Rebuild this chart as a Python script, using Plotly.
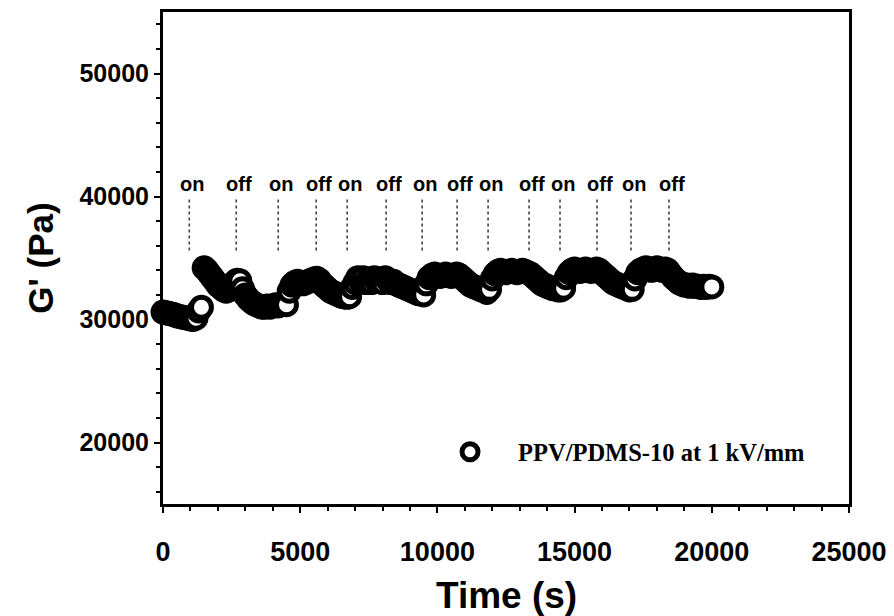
import plotly.graph_objects as go

# ---- data ----
time_s = [
    0, 100, 200, 300, 400, 500, 600, 700, 800, 900,
    1000, 1100, 1200, 1300, 1400, 1500, 1600, 1700, 1800, 1900,
    2000, 2100, 2200, 2300, 2400, 2500, 2600, 2700, 2800, 2900,
    3000, 3100, 3200, 3300, 3400, 3500, 3600, 3700, 3800, 3900,
    4000, 4100, 4200, 4300, 4400, 4500, 4600, 4700, 4800, 4900,
    5000, 5100, 5200, 5300, 5400, 5500, 5600, 5700, 5800, 5900,
    6000, 6100, 6200, 6300, 6400, 6500, 6600, 6700, 6800, 6900,
    7000, 7100, 7200, 7300, 7400, 7500, 7600, 7700, 7800, 7900,
    8000, 8100, 8200, 8300, 8400, 8500, 8600, 8700, 8800, 8900,
    9000, 9100, 9200, 9300, 9400, 9500, 9600, 9700, 9800, 9900,
    10000, 10100, 10200, 10300, 10400, 10500, 10600, 10700, 10800, 10900,
    11000, 11100, 11200, 11300, 11400, 11500, 11600, 11700, 11800, 11900,
    12000, 12100, 12200, 12300, 12400, 12500, 12600, 12700, 12800, 12900,
    13000, 13100, 13200, 13300, 13400, 13500, 13600, 13700, 13800, 13900,
    14000, 14100, 14200, 14300, 14400, 14500, 14600, 14700, 14800, 14900,
    15000, 15100, 15200, 15300, 15400, 15500, 15600, 15700, 15800, 15900,
    16000, 16100, 16200, 16300, 16400, 16500, 16600, 16700, 16800, 16900,
    17000, 17100, 17200, 17300, 17400, 17500, 17600, 17700, 17800, 17900,
    18000, 18100, 18200, 18300, 18400, 18500, 18600, 18700, 18800, 18900,
    19000, 19100, 19200, 19300, 19400, 19500, 19600, 19700, 19800, 19900,
    20000,
]
g_prime_pa = [
    30600, 30550, 30500, 30450, 30400, 30300, 30250, 30200, 30150, 30100,
    30050, 30000, 30100, 30700, 31000, 34200, 34000, 33700, 33400, 33100,
    32800, 32600, 32400, 32300, 32400, 32700, 33000, 33200, 33150, 32500,
    32000, 31700, 31500, 31300, 31200, 31100, 31000, 31000, 31100, 31000,
    31100, 31200, 31100, 31200, 31300, 31200, 32300, 32800, 33000, 33100,
    33000, 32900, 33000, 33100, 33200, 33300, 33350, 33200, 32900, 32700,
    32500, 32300, 32200, 32100, 32000, 31900, 31850, 31800, 31850, 32600,
    33000, 33400, 33100, 33400, 33000, 33300, 33000, 33400, 33100, 33300,
    33000, 33400, 33200, 33000, 33100, 32900, 32800, 32700, 32600, 32500,
    32400, 32300, 32200, 32100, 32300, 32000, 32900, 33400, 33600, 33700,
    33600, 33500, 33600, 33700, 33600, 33500, 33600, 33700, 33600, 33400,
    33200, 33000, 32800, 32700, 32600, 32500, 32400, 32400, 32200, 32450,
    33300, 33700, 33900, 34000, 33900, 33800, 33900, 34000, 33900, 33800,
    33900, 34000, 33900, 33800, 33700, 33500, 33300, 33100, 32900, 32800,
    32700, 32600, 32500, 32500, 32400, 32400, 32550, 33400, 33800, 34000,
    34100, 34000, 33900, 34000, 34100, 34000, 33900, 34000, 34100, 34000,
    33800, 33600, 33400, 33200, 33000, 32900, 32800, 32700, 32600, 32500,
    32400, 32450, 33300, 33800, 34000, 34100, 34200, 34100, 34000, 34100,
    34200, 34100, 34000, 34100, 34000, 33700, 33400, 33200, 33000, 32900,
    32800, 32800, 32700, 32800, 32700, 32700, 32600, 32700, 32600, 32700,
    32650,
]
switch_times = [958, 2669, 4199, 5583, 6712, 8132, 9443, 10718,
                11847, 13340, 14469, 15817, 17055, 18438]
switch_labels = ["on", "off", "on", "off", "on", "off", "on", "off",
                 "on", "off", "on", "off", "on", "off"]
marker_line_bottom = 35600
marker_line_top = 39800
label_level = 41000
series_name = "PPV/PDMS-10 at 1 kV/mm"
x_title = "Time (s)"
y_title = "G' (Pa)"

x_ticks = [0, 5000, 10000, 15000, 20000, 25000]
y_ticks = [20000, 30000, 40000, 50000]

SANS = "Liberation Sans, Arial, sans-serif"
NARROW = "Liberation Sans Narrow, Arial Narrow, Liberation Sans, sans-serif"
SERIF = "Liberation Serif, Times New Roman, serif"

fig = go.Figure()

# dotted switch markers
lx, ly = [], []
for t in switch_times:
    lx += [t, t, None]
    ly += [marker_line_bottom, marker_line_top, None]
fig.add_trace(go.Scatter(x=lx, y=ly, mode="lines", showlegend=False,
                         hoverinfo="skip",
                         line=dict(color="#444444", width=1.6, dash="dot")))

fig.add_trace(go.Scatter(
    x=time_s, y=g_prime_pa, mode="markers", name=series_name,
    cliponaxis=False,
    marker=dict(symbol="circle", size=20, color="white",
                line=dict(color="black", width=5)),
))

for t, lab in zip(switch_times, switch_labels):
    fig.add_annotation(x=t, y=label_level, text=lab, showarrow=False,
                       xshift=3, font=dict(family=SANS, size=20, color="black",
                                           weight="bold"))

# x-axis title as a paper-positioned annotation (precise placement)
fig.add_annotation(x=0.5, y=-0.185, xref="paper", yref="paper",
                   text=x_title, showarrow=False, xanchor="center",
                   yanchor="middle",
                   font=dict(family=NARROW, size=37, color="black",
                             weight="bold"))

axis_common = dict(
    showline=True, linecolor="black", linewidth=3, mirror=True,
    ticks="outside", tickcolor="black", tickwidth=2, ticklen=6,
    showgrid=False, zeroline=False, automargin=False,
)

fig.update_xaxes(range=[0, 25000], tickvals=x_ticks,
                 ticktext=[str(v) for v in x_ticks],
                 minor=dict(dtick=1000, ticks="outside", ticklen=4,
                            tickwidth=1.5, tickcolor="black"),
                 ticklabelstandoff=16,
                 tickfont=dict(family=NARROW, size=27, color="black",
                               weight="bold"),
                 **axis_common)
fig.update_yaxes(range=[15000, 55000], tickvals=y_ticks,
                 ticktext=[str(v) for v in y_ticks],
                 minor=dict(dtick=2000, ticks="outside", ticklen=4,
                            tickwidth=1.5, tickcolor="black"),
                 ticklabelstandoff=0,
                 tickfont=dict(family=SANS, size=25, color="black",
                               weight="bold"),
                 title=dict(text=y_title, standoff=16,
                            font=dict(family=SANS, size=35, color="black",
                                      weight="bold")),
                 **axis_common)

# the page adds an 8px body margin, so the margins below are offset by 8px
fig.update_layout(
    width=894, height=616,
    margin=dict(l=155, r=53, t=4, b=120),
    plot_bgcolor="white", paper_bgcolor="white",
    showlegend=True,
    legend=dict(x=0.3776, y=0.106, xanchor="left", yanchor="middle",
                bgcolor="rgba(0,0,0,0)", itemsizing="trace", itemwidth=86,
                font=dict(family=SERIF, size=24.5, color="black",
                          weight="bold")),
)

fig.write_html("out.html")
